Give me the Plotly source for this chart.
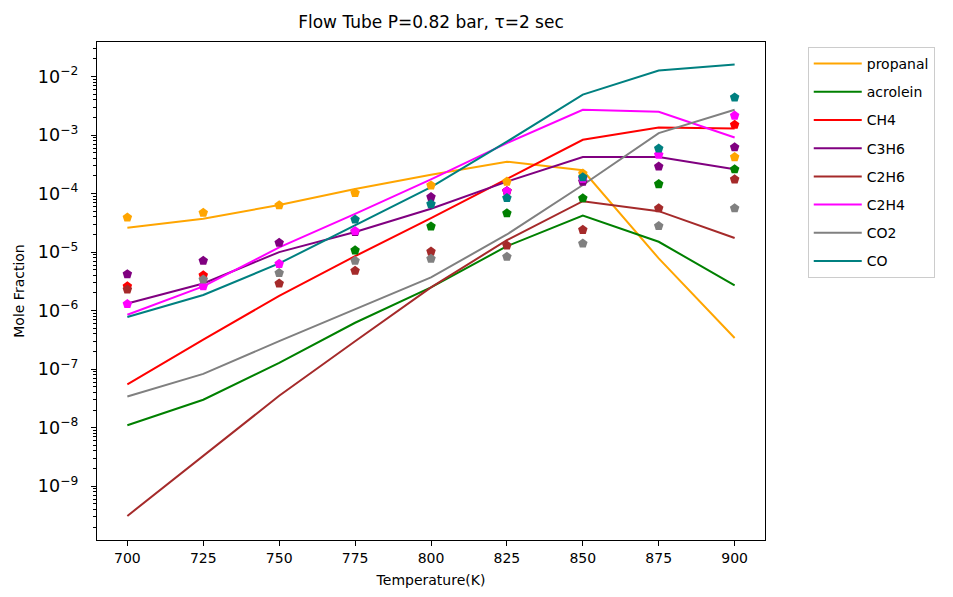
import plotly.graph_objects as go

temps = [700, 725, 750, 775, 800, 825, 850, 875, 900]
species = ["propanal", "acrolein", "CH4", "C3H6", "C2H6", "C2H4", "CO2", "CO"]
colors = ["#FFA500", "#008000", "#FF0000", "#800080", "#A52A2A", "#FF00FF", "#808080", "#008080"]

# model (lines)
model_propanal = [2.6e-5, 3.7e-5, 6.4e-5, 1.2e-4, 2.1e-4, 3.5e-4, 2.5e-4, 7.8e-6, 3.4e-7]
model_acrolein = [1.1e-8, 3.0e-8, 1.28e-7, 6.2e-7, 2.5e-6, 1.26e-5, 4.2e-5, 1.5e-5, 2.7e-6]
model_ch4 = [5.5e-8, 3.2e-7, 1.78e-6, 8.5e-6, 3.8e-5, 1.8e-4, 8.3e-4, 1.34e-3, 1.3e-3]
model_c3h6 = [1.32e-6, 2.9e-6, 1.0e-5, 2.2e-5, 5.5e-5, 1.6e-4, 4.2e-4, 4.2e-4, 2.6e-4]
model_c2h6 = [3.1e-10, 3.3e-9, 3.5e-8, 3.0e-7, 2.5e-6, 1.6e-5, 7.4e-5, 5.0e-5, 1.74e-5]
model_c2h4 = [8.5e-7, 2.6e-6, 1.2e-5, 4.5e-5, 1.75e-4, 7.3e-4, 2.7e-3, 2.5e-3, 9.1e-4]
model_co2 = [3.4e-8, 8.3e-8, 3.0e-7, 1.05e-6, 3.7e-6, 2.0e-5, 1.4e-4, 1.08e-3, 2.7e-3]
model_co = [7.8e-7, 1.85e-6, 6.4e-6, 2.9e-5, 1.29e-4, 7.7e-4, 4.9e-3, 1.27e-2, 1.6e-2]

# experiment (markers)
exp_propanal = [3.9e-5, 4.7e-5, 6.3e-5, 1.02e-4, 1.38e-4, 1.6e-4, 2.2e-4, None, 4.2e-4]
exp_acrolein = [None, None, None, 1.07e-5, 2.75e-5, 4.6e-5, 8.3e-5, 1.45e-4, 2.6e-4]
exp_ch4 = [2.6e-6, 4.0e-6, None, None, None, 1.1e-4, None, None, 1.5e-3]
exp_c3h6 = [4.2e-6, 7.1e-6, 1.44e-5, 2.2e-5, 8.7e-5, 1.1e-4, 1.6e-4, 2.9e-4, 6.2e-4]
exp_c2h6 = [2.3e-6, None, 2.9e-6, 4.8e-6, 1.02e-5, 1.3e-5, 2.4e-5, 5.6e-5, 1.75e-4]
exp_c2h4 = [1.3e-6, 2.6e-6, 6.3e-6, 2.3e-5, None, 1.1e-4, 1.8e-4, 4.6e-4, 2.15e-3]
exp_co2 = [None, 3.4e-6, 4.4e-6, 7.1e-6, 7.7e-6, 8.3e-6, 1.4e-5, 2.8e-5, 5.6e-5]
exp_co = [None, None, None, 3.6e-5, 6.6e-5, 8.4e-5, 1.9e-4, 5.9e-4, 4.4e-3]

models = [model_propanal, model_acrolein, model_ch4, model_c3h6, model_c2h6, model_c2h4, model_co2, model_co]
exps = [exp_propanal, exp_acrolein, exp_ch4, exp_c3h6, exp_c2h6, exp_c2h4, exp_co2, exp_co]

fig = go.Figure()
for name, col, m in zip(species, colors, models):
    fig.add_trace(go.Scatter(x=temps, y=m, mode="lines", name=name, legendgroup=name,
                             line=dict(color=col, width=2)))
for name, col, e in zip(species, colors, exps):
    fig.add_trace(go.Scatter(x=temps, y=e, mode="markers", name=name, legendgroup=name,
                             showlegend=False,
                             marker=dict(symbol="pentagon", size=10, color=col,
                                         line=dict(width=0))))

axis_common = dict(showline=True, linecolor="black", linewidth=1, mirror=True,
                   ticks="outside", ticklen=5, tickcolor="black", showgrid=False,
                   zeroline=False, tickfont=dict(size=14, color="black"))

W, H = 945, 589
fig.update_layout(
    width=W, height=H,
    margin=dict(l=89, r=188, t=34, b=57, autoexpand=False),
    paper_bgcolor="white", plot_bgcolor="white",
    font=dict(family="DejaVu Sans", color="black"),
    title=dict(text="Flow Tube P=0.82 bar, τ=2 sec", x=423 / W, xanchor="center",
               y=1 - 14 / H, yanchor="middle", font=dict(size=17)),
    xaxis=dict(range=[690, 910], tickvals=temps,
               title=dict(text="Temperature(K)", font=dict(size=14), standoff=10),
               **axis_common),
    yaxis=dict(type="log", range=[-9.92, -1.41], dtick=1, exponentformat="power",
               ticklabelstandoff=10,
               title=dict(text="Mole Fraction", font=dict(size=14), standoff=9),
               minor=dict(ticks="outside", ticklen=3, tickcolor="black", dtick="D1", showgrid=False),
               **axis_common),
    legend=dict(x=1.064, y=0.99, xanchor="left", yanchor="top", bordercolor="#cccccc", borderwidth=1,
                font=dict(size=14), tracegroupgap=7, bgcolor="white", itemwidth=48),
    showlegend=True,
)

fig.write_html("out.html")
